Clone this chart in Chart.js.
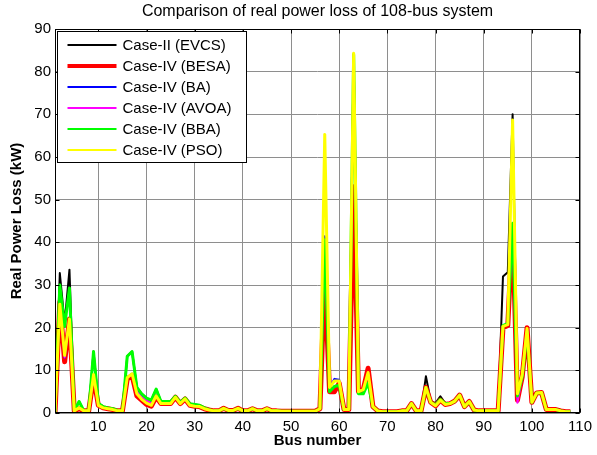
<!DOCTYPE html>
<html>
<head>
<meta charset="utf-8">
<script src="https://cdn.jsdelivr.net/npm/chart.js@4.4.1/dist/chart.umd.min.js"></script>
<style>
  html, body { margin: 0; padding: 0; background: #fff; }
  #wrap { width: 597px; height: 455px; }
</style>
</head>
<body>
<div id="wrap"><canvas id="lossChart" width="597" height="455"></canvas></div>
<script>
// ==========================================
// DATA (kW per bus)
// ==========================================
const busNumbers = [
  1, 2, 3, 4, 5, 6, 7, 8, 9, 10, 11, 12, 13, 14, 15, 16, 17, 18, 19, 20,
  21, 22, 23, 24, 25, 26, 27, 28, 29, 30, 31, 32, 33, 34, 35, 36, 37, 38, 39, 40,
  41, 42, 43, 44, 45, 46, 47, 48, 49, 50, 51, 52, 53, 54, 55, 56, 57, 58, 59, 60,
  61, 62, 63, 64, 65, 66, 67, 68, 69, 70, 71, 72, 73, 74, 75, 76, 77, 78, 79, 80,
  81, 82, 83, 84, 85, 86, 87, 88, 89, 90, 91, 92, 93, 94, 95, 96, 97, 98, 99, 100,
  101, 102, 103, 104, 105, 106, 107, 108
];

const xTicks = [10, 20, 30, 40, 50, 60, 70, 80, 90, 100, 110];
const yTicks = [0, 10, 20, 30, 40, 50, 60, 70, 80, 90];

const evcsLoss = [
  0, 32.8, 21, 33.6, 0.5, 2.7, 0.5, 0.5, 14.4, 2.3,
  1.5, 1.2, 1, 0.6, 0.5, 13.3, 14.4, 6, 4.5, 3.5,
  3, 5.6, 2.7, 2.7, 2.7, 3.9, 2.5, 3.5, 2.2, 2,
  1.8, 1.2, 0.8, 0.5, 0.5, 1.1, 0.6, 0.6, 1.1, 0.5,
  0.5, 1, 0.5, 0.5, 1, 0.5, 0.5, 0.4, 0.4, 0.4,
  0.4, 0.4, 0.4, 0.4, 0.4, 1, 41, 5, 6.2, 6.5,
  0.8, 0.8, 84, 6, 5, 7.5, 1.5, 0.5, 0.3, 0.3,
  0.3, 0.3, 0.5, 0.5, 2.2, 0.5, 0.5, 8.6, 2.8, 2.3,
  3.9, 2.3, 2.3, 2.8, 4.2, 1.5, 2.7, 0.7, 0.5, 0.5,
  0.5, 0.5, 0.5, 32, 33, 70, 4, 9, 19.5, 2.5,
  4.7, 4.8, 0.8, 0.8, 0.8, 0.5, 0.3, 0.3
];

const besaLoss = [
  0, 26, 12, 22, 0.5, 1, 0.5, 0.5, 8.5, 1.8,
  1.2, 1, 0.8, 0.5, 0.5, 8, 8.8, 4, 3, 2,
  1.6, 3.8, 2.2, 2.2, 2.2, 3.7, 2.2, 3.3, 1.8, 1.6,
  1.5, 1, 0.7, 0.5, 0.5, 1.1, 0.6, 0.6, 1.1, 0.5,
  0.5, 1, 0.5, 0.5, 1, 0.5, 0.5, 0.4, 0.4, 0.4,
  0.4, 0.4, 0.4, 0.4, 0.4, 1, 32, 5, 5, 7,
  0.8, 0.8, 53, 5, 5.5, 10.5, 1.5, 0.5, 0.3, 0.3,
  0.3, 0.3, 0.5, 0.5, 2.2, 0.5, 0.5, 6, 2.5, 1.7,
  3, 2, 2.2, 2.8, 4.2, 1.5, 2.7, 0.7, 0.5, 0.5,
  0.5, 0.5, 0.5, 20, 20.5, 44, 3, 8.5, 20, 2.5,
  4.7, 4.8, 0.8, 0.8, 0.8, 0.5, 0.3, 0.3
];

const baLoss = [
  0, 26, 13, 22, 0.5, 1.2, 0.5, 0.5, 9, 1.8,
  1.2, 1, 0.8, 0.5, 0.5, 8.3, 9.2, 5.5, 4, 3.2,
  2.5, 4.2, 2.3, 2.3, 2.3, 3.7, 2.2, 3.3, 1.8, 1.6,
  1.5, 1, 0.7, 0.5, 0.5, 1.1, 0.6, 0.6, 1.1, 0.5,
  0.5, 1, 0.5, 0.5, 1, 0.5, 0.5, 0.4, 0.4, 0.4,
  0.4, 0.4, 0.4, 0.4, 0.4, 1, 41.4, 6, 8, 7.8,
  0.8, 0.8, 84, 5, 5.5, 9, 1.5, 0.5, 0.3, 0.3,
  0.3, 0.3, 0.5, 0.5, 2.2, 0.5, 0.5, 6, 2.5, 1.7,
  3, 2, 2.2, 2.8, 4.2, 1.5, 2.7, 0.7, 0.5, 0.5,
  0.5, 0.5, 0.5, 20.3, 20.7, 44, 3.5, 8.5, 19.5, 2.5,
  4.7, 4.8, 0.8, 0.8, 0.8, 0.5, 0.3, 0.3
];

const avoaLoss = [
  0, 26, 13, 22, 0.5, 1.2, 0.5, 0.5, 9, 1.8,
  1.2, 1, 0.8, 0.5, 0.5, 8.3, 9.2, 5, 3.7, 3,
  2.3, 4.1, 2.3, 2.3, 2.3, 3.7, 2.2, 3.3, 1.8, 1.6,
  1.5, 1, 0.7, 0.5, 0.5, 1.1, 0.6, 0.6, 1.1, 0.5,
  0.5, 1, 0.5, 0.5, 1, 0.5, 0.5, 0.4, 0.4, 0.4,
  0.4, 0.4, 0.4, 0.4, 0.4, 1, 40, 6, 7.5, 7.5,
  0.8, 0.8, 84, 5, 5.5, 9, 1.5, 0.5, 0.3, 0.3,
  0.3, 0.3, 0.5, 0.5, 2.2, 0.5, 0.5, 6, 2.5, 1.7,
  3, 2, 2.2, 2.8, 4.2, 1.5, 2.7, 0.7, 0.5, 0.5,
  0.5, 0.5, 0.5, 20.3, 20.7, 43, 2.4, 8.5, 19.5, 2.5,
  4.7, 4.8, 0.8, 0.8, 0.8, 0.5, 0.3, 0.3
];

const bbaLoss = [
  0, 30, 20.3, 29.3, 0.5, 2.7, 0.5, 0.5, 14.4, 2.3,
  1.5, 1.2, 1, 0.6, 0.5, 13.3, 14.4, 6, 4.5, 3.5,
  3, 5.6, 2.7, 2.7, 2.7, 3.9, 2.5, 3.5, 2.2, 2,
  1.8, 1.2, 0.8, 0.5, 0.5, 1.1, 0.6, 0.6, 1.1, 0.5,
  0.5, 1, 0.5, 0.5, 1, 0.5, 0.5, 0.4, 0.4, 0.4,
  0.4, 0.4, 0.4, 0.4, 0.4, 1, 40.6, 5, 6.2, 6.5,
  0.8, 0.8, 84, 4.5, 4.5, 7, 1.5, 0.5, 0.3, 0.3,
  0.3, 0.3, 0.5, 0.5, 2.2, 0.5, 0.5, 6, 2.5, 1.9,
  3.2, 2.2, 2.2, 2.8, 4.2, 1.5, 2.7, 0.7, 0.5, 0.5,
  0.5, 0.5, 0.5, 20.5, 21, 44.5, 4, 8.5, 19, 2.5,
  4.7, 4.8, 0.8, 0.8, 0.8, 0.5, 0.3, 0.3
];

const psoLoss = [
  0, 25.5, 13.5, 22, 0.5, 1.2, 0.5, 0.5, 9, 1.8,
  1.2, 1, 0.8, 0.5, 0.5, 8.3, 9.2, 4.5, 3.2, 2.3,
  1.8, 4, 2.2, 2.2, 2.2, 3.7, 2.2, 3.3, 1.8, 1.6,
  1.5, 1, 0.7, 0.5, 0.5, 1.1, 0.6, 0.6, 1.1, 0.5,
  0.5, 1, 0.5, 0.5, 1, 0.5, 0.5, 0.4, 0.4, 0.4,
  0.4, 0.4, 0.4, 0.4, 0.4, 1, 65.3, 6, 7.5, 7.5,
  0.8, 0.8, 84.3, 5, 5.5, 9.5, 1.5, 0.5, 0.3, 0.3,
  0.3, 0.3, 0.5, 0.5, 2.2, 0.5, 0.5, 6, 2.5, 1.7,
  3, 2, 2.2, 2.8, 4.2, 1.5, 2.7, 0.7, 0.5, 0.5,
  0.5, 0.5, 0.5, 20.3, 20.7, 68.7, 4.5, 9, 19.8, 2.5,
  4.7, 4.8, 0.8, 0.8, 0.8, 0.5, 0.3, 0.3
];

// legend order = plotting order (last one ends up on top)
const series = [
  { label: 'Case-II (EVCS)', values: evcsLoss, color: '#000000', width: 2 },
  { label: 'Case-IV (BESA)', values: besaLoss, color: '#ff0000', width: 5 },
  { label: 'Case-IV (BA)',   values: baLoss,   color: '#0000ff', width: 2 },
  { label: 'Case-IV (AVOA)', values: avoaLoss, color: '#ff00ff', width: 2 },
  { label: 'Case-IV (BBA)',  values: bbaLoss,  color: '#00ff00', width: 3 },
  { label: 'Case-IV (PSO)',  values: psoLoss,  color: '#ffff00', width: 3 }
];

const chartTitle = 'Comparison of real power loss of 108-bus system';

// ==========================================
// CHART
// ==========================================
Chart.defaults.font.family = '"Liberation Sans", Arial, sans-serif';
Chart.defaults.font.size = 15;
Chart.defaults.color = '#000';

const gridColor = '#8e8e8e';

// matlab-like box: title over the axes, frame, inward ticks, framed legend
const matlabBox = {
  id: 'matlabBox',
  afterDraw(chart) {
    const { ctx, chartArea: a, scales } = chart;
    const L = Math.round(a.left) + 0.5, R = Math.round(a.right) - 0.5;
    const T = Math.round(a.top) + 0.5, B = Math.round(a.bottom) - 0.5;
    ctx.save();

    ctx.fillStyle = '#000';
    ctx.font = '16px "Liberation Sans", Arial, sans-serif';
    ctx.textAlign = 'center';
    ctx.textBaseline = 'middle';
    ctx.fillText(chartTitle, (a.left + a.right) / 2, 12);

    ctx.strokeStyle = '#000';
    ctx.lineWidth = 1;
    ctx.beginPath();
    xTicks.forEach(v => {
      const px = Math.round(scales.x.getPixelForValue(v)) + 0.5;
      ctx.moveTo(px, B); ctx.lineTo(px, B - 4);
      ctx.moveTo(px, T); ctx.lineTo(px, T + 4);
    });
    yTicks.forEach(v => {
      const py = Math.round(scales.y.getPixelForValue(v)) + 0.5;
      ctx.moveTo(L, py); ctx.lineTo(L + 4, py);
      ctx.moveTo(R, py); ctx.lineTo(R - 4, py);
    });
    ctx.stroke();
    ctx.strokeRect(L, T, R - L, B - T);

    // legend
    const lx = L + 2, ly = T + 2, lw = 189, lh = 131;
    ctx.fillStyle = '#fff';
    ctx.fillRect(lx, ly, lw, lh);
    ctx.strokeRect(lx, ly, lw, lh);
    ctx.font = '15px "Liberation Sans", Arial, sans-serif';
    ctx.textBaseline = 'middle';
    ctx.textAlign = 'left';
    series.forEach((s, i) => {
      const cy = ly + 13.5 + i * 21;
      ctx.beginPath();
      ctx.strokeStyle = s.color;
      ctx.lineWidth = s.width === 5 ? 4 : 2;
      ctx.moveTo(lx + 10, cy);
      ctx.lineTo(lx + 59, cy);
      ctx.stroke();
      ctx.fillStyle = '#000';
      ctx.fillText(s.label, lx + 65, cy + 1);
    });
    ctx.restore();
  }
};

new Chart(document.getElementById('lossChart'), {
  type: 'line',
  data: {
    datasets: series.map((s, i) => ({
      label: s.label,
      data: busNumbers.map((b, k) => ({ x: b, y: s.values[k] })),
      borderColor: s.color,
      backgroundColor: s.color,
      borderWidth: s.width,
      borderJoinStyle: 'round',
      pointRadius: 0,
      tension: 0,
      fill: false,
      order: series.length - 1 - i
    }))
  },
  options: {
    responsive: false,
    animation: false,
    events: [],
    layout: { padding: { left: 0, right: 13, top: 29, bottom: 0 } },
    plugins: {
      legend: { display: false },
      tooltip: { enabled: false },
      title: { display: false }
    },
    scales: {
      x: {
        type: 'linear',
        min: 1,
        max: 110,
        afterBuildTicks: s => { s.ticks = xTicks.map(v => ({ value: v })); },
        afterFit: s => { s.height = 42; },
        grid: { color: gridColor, drawTicks: false },
        border: { display: false },
        ticks: { padding: 5, maxRotation: 0, autoSkip: false, color: '#000' },
        title: {
          display: true,
          text: 'Bus number',
          font: { size: 15, weight: 'bold' },
          padding: { top: 0, bottom: 5 }
        }
      },
      y: {
        min: 0,
        max: 90,
        afterBuildTicks: s => { s.ticks = yTicks.map(v => ({ value: v })); },
        afterFit: s => { s.width = 55; },
        grid: { color: gridColor, drawTicks: false },
        border: { display: false },
        ticks: { padding: 4, color: '#000' },
        title: {
          display: true,
          text: 'Real Power Loss (kW)',
          font: { size: 15, weight: 'bold' },
          padding: { top: 8, bottom: 0 }
        }
      }
    }
  },
  plugins: [matlabBox]
});
</script>
</body>
</html>
